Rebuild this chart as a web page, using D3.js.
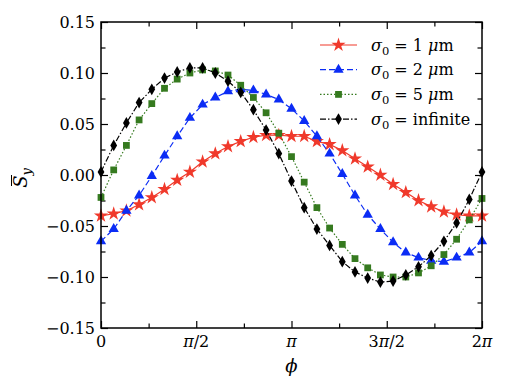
<!DOCTYPE html>
<meta charset="utf-8">
<style>
body { margin: 0; background: #fff; }
.frame { fill: none; stroke: #000; stroke-width: 1.5px; }
.axis path { display: none; }
.axis line { stroke: #000; stroke-width: 1.2px; }
.series { fill: none; stroke-width: 1.2px; }
</style>
<svg width="509" height="384"></svg>
<script src="https://d3js.org/d3.v7.min.js"></script>
<script>

// phase angle, degrees
let phiDeg = [0, 12, 24, 36, 48, 60, 72, 84, 96, 108, 120, 132, 144, 156, 168, 180,
              192, 204, 216, 228, 240, 252, 264, 276, 288, 300, 312, 324, 336, 348, 360];

let sigma1 = [-0.040, -0.038, -0.035, -0.029, -0.022, -0.014, -0.005, 0.003, 0.013, 0.021, 0.028,
              0.033, 0.037, 0.039, 0.039, 0.038, 0.038, 0.033, 0.030, 0.024, 0.016,
              0.008, 0.000, -0.009, -0.017, -0.025, -0.031, -0.036, -0.039, -0.040, -0.040];

let sigma2 = [-0.065, -0.053, -0.035, -0.020, -0.001, 0.019, 0.038, 0.056, 0.069, 0.076, 0.082,
              0.084, 0.083, 0.079, 0.074, 0.065, 0.053, 0.038, 0.021, 0.001, -0.020,
              -0.039, -0.053, -0.066, -0.076, -0.081, -0.084, -0.085, -0.081, -0.076, -0.065];

let sigma5 = [-0.022, 0.005, 0.029, 0.054, 0.070, 0.085, 0.094, 0.100, 0.103, 0.102, 0.098,
              0.088, 0.076, 0.061, 0.041, 0.018, -0.007, -0.032, -0.052, -0.068, -0.082,
              -0.091, -0.098, -0.100, -0.100, -0.096, -0.089, -0.078, -0.063, -0.044, -0.023];

let sigmaInf = [0.003, 0.029, 0.051, 0.071, 0.084, 0.095, 0.101, 0.105, 0.105, 0.100, 0.092,
                0.081, 0.064, 0.044, 0.021, -0.006, -0.032, -0.053, -0.069, -0.085, -0.095,
                -0.101, -0.105, -0.104, -0.098, -0.090, -0.079, -0.065, -0.047, -0.024, 0.003];

let seriesNames = ["1 μm", "2 μm", "5 μm", "infinite"];
let xTickLabels = ["0", "π/2", "π", "3π/2", "2π"];
let yTickValues = [-0.15, -0.10, -0.05, 0.00, 0.05, 0.10, 0.15];

let serif = "DejaVu Serif";

let svg = d3.select("svg"),
    margin = {top: 22, right: 27, bottom: 56, left: 101},
    width = 509 - margin.left - margin.right,
    height = 384 - margin.top - margin.bottom,
    g = svg.append("g").attr("transform", "translate(" + margin.left + "," + margin.top + ")");

let x = d3.scaleLinear().domain([0, 2 * Math.PI]).range([0, width]),
    y = d3.scaleLinear().domain([-0.15, 0.15]).range([height, 0]);

let series = [
    {name: seriesNames[0], values: sigma1, color: "#f0392b", dash: null, symbol: d3.symbolStar, size: 62},
    {name: seriesNames[1], values: sigma2, color: "#0b2cf5", dash: "6,3", symbol: d3.symbolTriangle, size: 46},
    {name: seriesNames[2], values: sigma5, color: "#357a1f", dash: "1.5,2", symbol: d3.symbolSquare, size: 46},
    {name: seriesNames[3], values: sigmaInf, color: "#000000", dash: "6,2,1.5,2", symbol: d3.symbolDiamond, size: 40}
];

let phiRad = phiDeg.map(function(d) { return d * Math.PI / 180; });

// ticks: majors get labels, minors are halfway between
let xMajor = [0, Math.PI / 2, Math.PI, 3 * Math.PI / 2, 2 * Math.PI],
    xMinor = [Math.PI / 4, 3 * Math.PI / 4, 5 * Math.PI / 4, 7 * Math.PI / 4],
    yMinor = [-0.125, -0.075, -0.025, 0.025, 0.075, 0.125];

function drawTicks(axisFn, scale, values, len, transform) {
    g.append("g")
        .attr("class", "axis")
        .attr("transform", transform)
        .call(axisFn(scale).tickValues(values).tickSizeInner(-len).tickSizeOuter(0).tickFormat(""));
}
drawTicks(d3.axisBottom, x, xMajor, 7, "translate(0," + height + ")");
drawTicks(d3.axisBottom, x, xMinor, 4.5, "translate(0," + height + ")");
drawTicks(d3.axisTop, x, xMajor, 7, "translate(0,0)");
drawTicks(d3.axisTop, x, xMinor, 4.5, "translate(0,0)");
drawTicks(d3.axisLeft, y, yTickValues, 7, "translate(0,0)");
drawTicks(d3.axisLeft, y, yMinor, 4.5, "translate(0,0)");
drawTicks(d3.axisRight, y, yTickValues, 7, "translate(" + width + ",0)");
drawTicks(d3.axisRight, y, yMinor, 4.5, "translate(" + width + ",0)");

// tick labels
g.selectAll(".ylab")
    .data(yTickValues)
    .enter().append("text")
    .attr("class", "ylab")
    .attr("x", -6)
    .attr("y", function(d) { return y(d); })
    .attr("dy", "0.36em")
    .attr("text-anchor", "end")
    .attr("font-family", serif)
    .attr("font-size", 16)
    .text(function(d) { return (d < 0 ? "\u2212" : "") + Math.abs(d).toFixed(2); });

let xl = g.selectAll(".xlab")
    .data(xMajor)
    .enter().append("text")
    .attr("class", "xlab")
    .attr("x", function(d) { return x(d); })
    .attr("y", height + 19)
    .attr("text-anchor", "middle")
    .attr("font-family", serif)
    .attr("font-size", 16);

xl.each(function(d, i) {
    let t = d3.select(this);
    xTickLabels[i].split(/(π)/).forEach(function(part) {
        if (!part) return;
        t.append("tspan")
            .attr("font-style", part === "π" ? "italic" : "normal")
            .text(part);
    });
});

// axis titles
g.append("text")
    .attr("x", width / 2)
    .attr("y", height + 44)
    .attr("text-anchor", "middle")
    .attr("font-family", serif)
    .attr("font-size", 18)
    .attr("font-style", "italic")
    .text("ϕ");

let yt = svg.append("g").attr("transform", "translate(27,178) rotate(-90)");
let ytext = yt.append("text")
    .attr("text-anchor", "middle")
    .attr("font-family", serif)
    .attr("font-size", 18)
    .attr("font-style", "italic");
ytext.append("tspan").text("S");
ytext.append("tspan").attr("dy", 4).attr("font-size", 13).text("y");
yt.append("line")
    .attr("x1", -8).attr("x2", 3)
    .attr("y1", -15.5).attr("y2", -15.5)
    .attr("stroke", "#000").attr("stroke-width", 1);

// lines + markers
let line = d3.line()
    .x(function(d, i) { return x(phiRad[i]); })
    .y(function(d) { return y(d); });

let s = g.selectAll(".s")
    .data(series)
    .enter().append("g");

s.append("path")
    .attr("class", "series")
    .attr("d", function(d) { return line(d.values); })
    .style("stroke", function(d) { return d.color; })
    .style("stroke-dasharray", function(d) { return d.dash; });

s.each(function(d) {
    d3.select(this).selectAll("path.pt")
        .data(d.values)
        .enter().append("path")
        .attr("class", "pt")
        .attr("d", d3.symbol().type(d.symbol).size(d.size))
        .attr("transform", function(v, i) { return "translate(" + x(phiRad[i]) + "," + y(v) + ")"; })
        .style("fill", d.color);
});

// frame on top
g.append("rect")
    .attr("class", "frame")
    .attr("width", width)
    .attr("height", height);

// legend
let legend = g.selectAll(".legend")
    .data(series)
    .enter().append("g")
    .attr("class", "legend")
    .attr("transform", function(d, i) { return "translate(219," + (23 + i * 24.7) + ")"; });

legend.append("line")
    .attr("x1", 0).attr("x2", 37)
    .style("stroke", function(d) { return d.color; })
    .style("stroke-width", 1.2)
    .style("stroke-dasharray", function(d) { return d.dash; });

legend.append("path")
    .attr("d", function(d) { return d3.symbol().type(d.symbol).size(d.size)(); })
    .attr("transform", "translate(18.5,0)")
    .style("fill", function(d) { return d.color; });

let lt = legend.append("text")
    .attr("x", 51)
    .attr("dy", "0.35em")
    .attr("font-family", serif)
    .attr("font-size", 16);
lt.append("tspan").attr("font-style", "italic").text("σ");
lt.append("tspan").attr("dy", 4).attr("font-size", 11.5).text("0");
lt.append("tspan").attr("dy", -4).text(" = ");
lt.append("tspan").each(function(d) {
    let t = d3.select(this);
    if (d.name.indexOf("μ") >= 0) {
        let parts = d.name.split(" ");
        t.append("tspan").text(parts[0] + " ");
        t.append("tspan").attr("font-style", "italic").text("μ");
        t.append("tspan").text("m");
    } else {
        t.text(d.name);
    }
});

</script>
